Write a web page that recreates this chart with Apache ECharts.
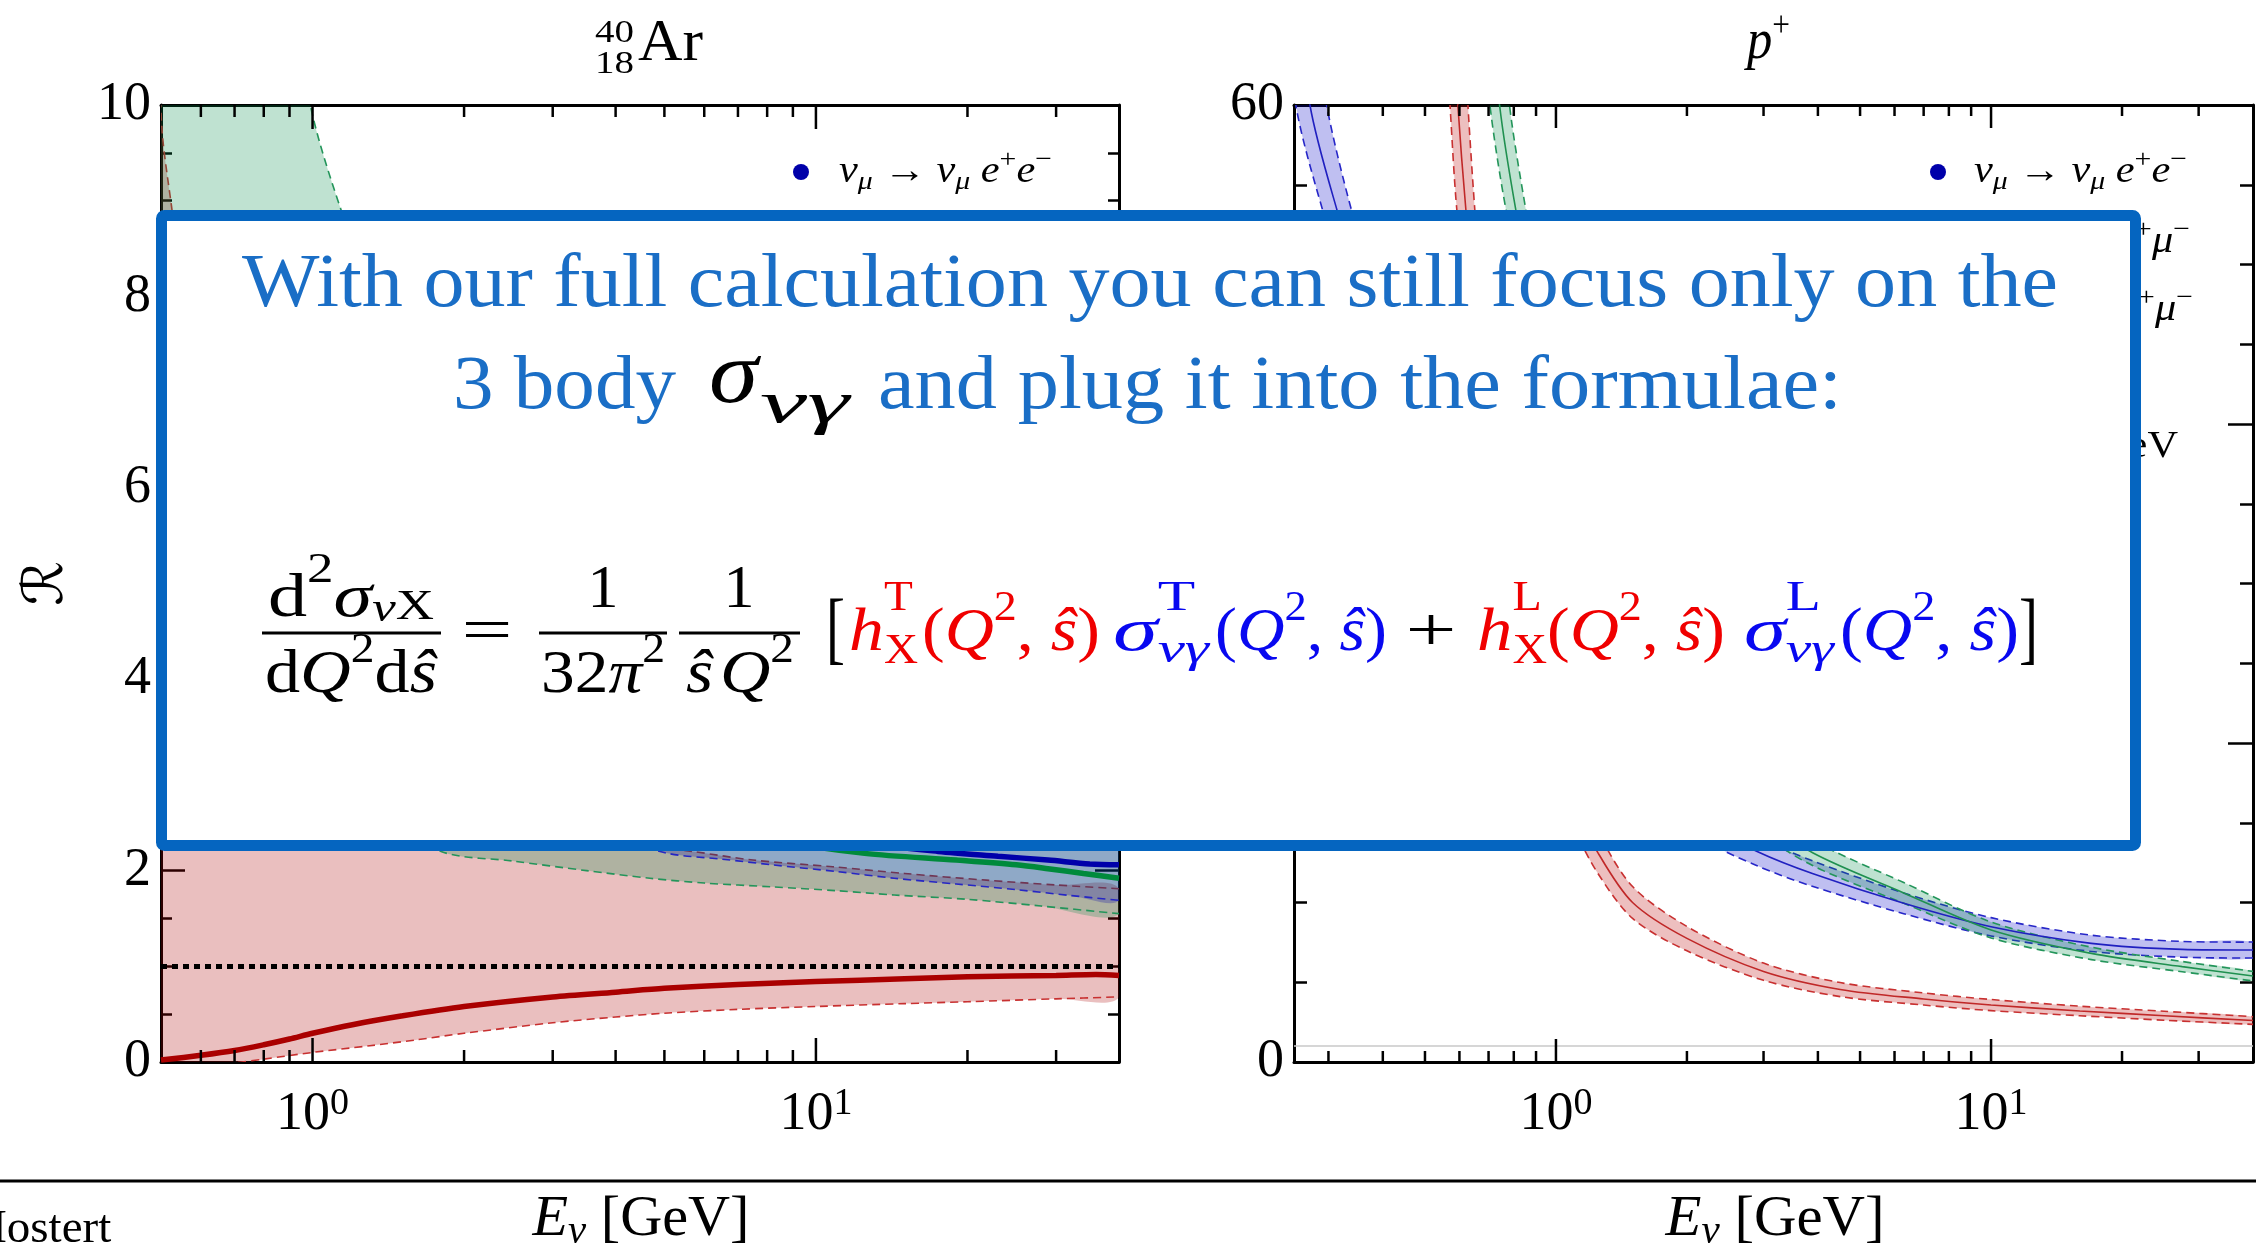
<!DOCTYPE html>
<html><head><meta charset="utf-8">
<script src="https://cdn.jsdelivr.net/npm/echarts@6/dist/echarts.min.js"></script>
<style>html,body{margin:0;padding:0;background:#fff;}#c{width:2256px;height:1246px;}</style>
</head><body><div id="c"></div>
<script>
// ===================== DATA =====================
// Left panel: 40Ar, ratio R vs E_nu [GeV]   ([E, R] pairs)
const AR_RED_MID = [[0.5,0.02],[0.6,0.07],[0.7,0.12],[0.8,0.18],[0.9,0.24],[1,0.30],[1.2,0.39],[1.5,0.48],[2,0.58],[3,0.68],[4,0.73],[5,0.77],[7,0.81],[10,0.84],[15,0.87],[20,0.89],[30,0.905],[36,0.915],[40,0.905]];
const AR_RED_LO  = [[0.5,-0.12],[0.6,-0.06],[0.7,-0.01],[0.8,0.03],[1,0.1],[1.3,0.17],[1.6,0.23],[2,0.30],[3,0.41],[4,0.47],[5,0.51],[7,0.55],[10,0.58],[15,0.61],[20,0.63],[30,0.66],[40,0.68]];
const AR_RED_HI  = [[0.495,10.6],[0.503,9.7],[0.525,8.93],[0.6,6.6],[0.7,5.2],[0.85,4.3],[1,3.75],[1.5,3.0],[2,2.72],[3,2.45],[4,2.3],[5.69,2.2],[7.5,2.11],[10.8,2.04],[15,1.97],[21.8,1.90],[30,1.85],[40,1.81]];
const AR_GRN_MID = [[0.5,8.2],[0.7,6.6],[1,5.3],[1.5,4.1],[2,3.5],[3,2.9],[5,2.55],[8,2.33],[12.5,2.18],[19,2.11],[25,2.06],[28.9,2.02],[34,1.97],[40,1.92]];
const AR_GRN_LO  = [[0.5,5.2],[0.7,4.1],[1,3.25],[1.4,2.6],[1.8,2.2],[2.5,2.10],[3.5,2.0],[4.68,1.92],[6,1.87],[8.18,1.83],[11,1.79],[14.3,1.745],[20,1.70],[28,1.63],[40,1.55]];
const AR_GRN_HI  = [[0.5,30],[0.7,17],[0.85,12.2],[0.99,10],[1.14,8.9],[1.5,7.2],[2,6.0],[3,4.8],[5,3.9],[10,3.2],[20,2.8],[40,2.5]];
const AR_BLU_MID = [[0.5,7.4],[0.7,6.5],[1,5.7],[1.5,4.7],[2,4.05],[3,3.4],[5,2.8],[8,2.48],[12,2.3],[17.5,2.2],[23,2.15],[28.9,2.11],[35,2.07],[40,2.06]];
const AR_BLU_LO  = [[0.5,6.2],[0.7,5.3],[1,4.5],[1.5,3.6],[2,3.15],[3,2.65],[4,2.35],[5.08,2.18],[6.5,2.12],[8.18,2.06],[11,1.99],[14.3,1.92],[19,1.86],[25.1,1.80],[32,1.74],[40,1.69]];
const AR_BLU_HI  = [[0.5,8.6],[0.7,7.8],[1,7.0],[1.5,5.8],[2,5.0],[3,4.2],[5,3.5],[10,3.0],[20,2.7],[40,2.45]];
// Right panel: proton
const P_RED_MID = [[0.56,72],[0.595,60],[0.621,53.4],[0.7,38],[0.8,29],[0.9,23],[1.0,19],[1.1,16.2],[1.25,13.1],[1.5,10.0],[2.0,7.75],[3.0,5.68],[4.5,4.55],[7,3.95],[10,3.57],[16,3.2],[25,2.9],[40,2.6]];
const P_RED_HI  = [[0.6,70],[0.6276,60],[0.651,53.4],[0.7,42.5],[0.8,32],[0.9,25.3],[1.0,20.9],[1.1,17.8],[1.25,14.4],[1.5,11.0],[2,8.5],[3,6.2],[4.5,4.98],[7,4.33],[10,3.92],[16,3.5],[25,3.18],[40,2.84]];
const P_RED_LO  = [[0.54,70],[0.5707,60],[0.592,53.4],[0.7,33.8],[0.8,26.1],[0.9,20.7],[1.0,17.1],[1.1,14.6],[1.25,11.8],[1.5,9.0],[2,6.97],[3,5.12],[4.5,4.1],[7,3.57],[10,3.22],[16,2.9],[25,2.62],[40,2.36]];
const P_BLU_MID = [[0.24,72],[0.272,60],[0.314,53.4],[0.4,44],[0.5,37],[0.7,29],[1.0,23],[1.5,18],[2.0,15.5],[2.9,13.2],[3.9,11.8],[6.3,9.95],[10,8.48],[17,7.44],[27.5,7.06],[40,7.02]];
const P_BLU_HI  = [[0.26,70],[0.297,60],[0.339,53.4],[0.4,47],[0.5,39.6],[0.7,31],[1,24.6],[1.5,19.3],[2,16.6],[2.9,14.1],[3.9,12.6],[6.3,10.6],[10,9.05],[17,7.95],[27.5,7.56],[40,7.52]];
const P_BLU_LO  = [[0.23,70],[0.2524,60],[0.291,53.4],[0.4,41],[0.5,34.4],[0.7,27],[1,21.4],[1.5,16.7],[2,14.4],[2.9,12.3],[3.9,11.0],[6.3,9.3],[10,7.9],[17,6.93],[27.5,6.57],[40,6.52]];
const P_GRN_MID = [[0.7,68],[0.742,60],[0.809,53.4],[1.0,40],[1.5,27],[2.0,20.5],[3.0,15.3],[3.9,13.1],[6.3,10.6],[10,8.28],[17,6.81],[27.5,5.98],[40,5.39]];
const P_GRN_HI  = [[0.74,68],[0.782,60],[0.853,53.4],[1.0,42.6],[1.5,28.7],[2,21.8],[3,16.3],[3.9,13.9],[6.3,11.25],[10,8.78],[17,7.2],[27.5,6.3],[40,5.68]];
const P_GRN_LO  = [[0.665,68],[0.705,60],[0.768,53.4],[1.0,37.4],[1.5,25.3],[2,19.2],[3,14.3],[3.9,12.3],[6.3,9.95],[10,7.78],[17,6.42],[27.5,5.66],[40,5.08]];
// reference levels
const AR_REF = 1, P_REF = 1;
// tick values
const L_MAJ = [1, 10];
const L_MIN = [0.6,0.7,0.8,0.9,2,3,4,5,6,7,8,9,20,30];
const R_MAJ = [1, 10];
const R_MIN = [0.3,0.4,0.5,0.6,0.7,0.8,0.9,2,3,4,5,6,7,8,9,20,30];
const AR_X = [0.5, 40], P_X = [0.25, 40], AR_Y = [0, 10, 2], P_Y = [0, 60, 20];

// ===================== helpers =====================
const SERIF = '"Liberation Serif"';
const TXTC = '#1a6ec6', BOXC = '#0565c0', RED = '#f00000', BLUE = '#0808f0';
const mctx = document.createElement('canvas').getContext('2d');
function fstr(s, it){ return (it ? 'italic ' : '') + s + 'px ' + SERIF; }
function tw(t, s, it){ mctx.font = fstr(s, it); mctx.textBaseline = 'alphabetic'; return mctx.measureText(t).width; }
function midOff(s, it){ mctx.font = fstr(s, it); mctx.textBaseline = 'middle'; const d = mctx.measureText('H').actualBoundingBoxDescent; mctx.textBaseline = 'alphabetic'; return d; }
function txt(t, x, base, s, o){ o = o || {};
  return {type:'text', x:x, y: base - midOff(s, o.it), z: o.z || 10, scaleX: o.sx || 1, silent:true,
    style:{text:t, font:fstr(s, o.it), fill:o.c || '#000', align:'left', verticalAlign:'middle'}};
}
function tokW(k){
  if (k.sup !== undefined || k.sub !== undefined)
    return Math.max(k.sup ? tw(k.sup, k.s, k.supIt) : 0, k.sub ? tw(k.sub, k.s, k.subIt) : 0);
  return tw(k.t, k.s, k.it);
}
function rowW(tokens){ return tokens.reduce((a, k) => a + tokW(k) + (k.gap || 0), 0); }
function row(tokens, x0, base, opt){
  opt = opt || {}; const W = rowW(tokens); const sc = opt.width ? opt.width / W : (opt.sc || 1);
  let x = x0; if (opt.align === 'center') x = x0 - W * sc / 2; else if (opt.align === 'right') x = x0 - W * sc;
  const z = opt.z || 10, els = [];
  tokens.forEach(k => {
    if (k.sup !== undefined || k.sub !== undefined) {
      if (k.sup) els.push(txt(k.sup, x, base + k.dsup, k.s, {it:k.supIt, c:k.c, sx:sc, z}));
      if (k.sub) els.push(txt(k.sub, x, base + k.dsub, k.s, {it:k.subIt, c:k.c, sx:sc, z}));
    } else els.push(txt(k.t, x, base + (k.dy || 0), k.s, {it:k.it, c:k.c, sx:sc, z}));
    x += (tokW(k) + (k.gap || 0)) * sc;
  });
  return els;
}
const SM = 0.3;
function band(xi, yi, hi, lo, fill, stroke, lw){
  return {type:'custom', xAxisIndex:xi, yAxisIndex:yi, silent:true, clip:true, z:2,
    data:[hi[Math.floor(hi.length/2)]], encode:{x:0, y:1},
    renderItem(params, api){
      const H = hi.map(p => api.coord(p)), L = lo.map(p => api.coord(p));
      const dash = {stroke:stroke, lineWidth:lw, lineDash:[8,5], fill:'none'};
      return {type:'group', children:[
        {type:'polygon', shape:{points:H.concat(L.slice().reverse()), smooth:SM}, style:{fill:fill}},
        {type:'polyline', shape:{points:H, smooth:SM}, style:dash},
        {type:'polyline', shape:{points:L, smooth:SM}, style:dash}]};
    }};
}
function mid(xi, yi, data, color, w, extra){
  return Object.assign({type:'line', xAxisIndex:xi, yAxisIndex:yi, data:data, symbol:'none', showSymbol:false,
    silent:true, smooth:SM, z:3, clip:true, lineStyle:{color:color, width:w}}, extra || {});
}
function ticks(xi, yi, majors, minors, lmaj, lmin){
  const data = majors.map(v => [v, 1]).concat(minors.map(v => [v, 0]));
  return {type:'custom', xAxisIndex:xi, yAxisIndex:yi, silent:true, clip:false, z:6, data:data, encode:{x:0, y:1},
    renderItem(params, api){
      const cs = params.coordSys; const x = api.coord([api.value(0), 0])[0];
      const len = api.value(1) ? lmaj : lmin; const st = {stroke:'#000', lineWidth:2.5};
      return {type:'group', children:[
        {type:'line', shape:{x1:x, y1:cs.y + cs.height, x2:x, y2:cs.y + cs.height - len}, style:st},
        {type:'line', shape:{x1:x, y1:cs.y, x2:x, y2:cs.y + len}, style:st}]};
    }};
}
function powFmt(v){ const l = Math.log10(v), r = Math.round(l); if (Math.abs(l - r) > 1e-6) return ''; return '{b|10}{s|' + r + '}'; }
const AXL = {show:true, onZero:false, lineStyle:{color:'#000', width:3}};
function xa(g, ext, pos, lab){
  return {type:'log', logBase:10, gridIndex:g, min:ext[0], max:ext[1], position:pos, axisLine:AXL,
    axisTick:{show:false}, minorTick:{show:false}, splitLine:{show:false}, minorSplitLine:{show:false},
    axisLabel: lab ? {formatter:powFmt, margin:23, rich:{
      b:{fontFamily:SERIF, fontSize:54, color:'#000', lineHeight:60},
      s:{fontFamily:SERIF, fontSize:38, color:'#000', lineHeight:38, verticalAlign:'top'}}} : {show:false}};
}
function ya(g, ext, pos, lab, lmaj, lmin, extra){
  return Object.assign({type:'value', gridIndex:g, min:ext[0], max:ext[1], interval:ext[2], position:pos, axisLine:AXL,
    axisTick:{show:true, inside:true, length:lmaj, lineStyle:{color:'#000', width:2.5}},
    minorTick:{show:true, splitNumber:4, length:lmin, lineStyle:{color:'#000', width:2.5}},
    splitLine:{show:false}, minorSplitLine:{show:false},
    axisLabel: lab ? {fontFamily:SERIF, fontSize:54, color:'#000', margin:10} : {show:false}}, extra || {});
}

// ===================== series =====================
const series = [
  band(0,0,AR_RED_HI,AR_RED_LO,'rgba(170,0,0,0.25)','#c83030',1.6),
  band(0,0,AR_GRN_HI,AR_GRN_LO,'rgba(0,140,70,0.25)','#23955a',1.6),
  band(0,0,AR_BLU_HI,AR_BLU_LO,'rgba(0,0,170,0.25)','#2626c4',1.6),
  mid(0,0,AR_RED_MID,'#aa0000',5.5,{markLine:{silent:true, symbol:['none','none'], label:{show:false},
    lineStyle:{color:'#000', width:5, type:[6,5]}, data:[{yAxis:AR_REF}]}}),
  mid(0,0,AR_GRN_MID,'#008a3c',5.5),
  mid(0,0,AR_BLU_MID,'#0000aa',5.5),
  ticks(0,0,L_MAJ,L_MIN,24,12),
  band(2,2,P_RED_HI,P_RED_LO,'rgba(190,20,20,0.27)','#c83030',1.6),
  band(2,2,P_BLU_HI,P_BLU_LO,'rgba(0,0,200,0.25)','#2626c8',1.6),
  band(2,2,P_GRN_HI,P_GRN_LO,'rgba(0,140,70,0.25)','#23955a',1.6),
  mid(2,2,P_RED_MID,'#c02828',1.6,{markLine:{silent:true, symbol:['none','none'], label:{show:false},
    lineStyle:{color:'#c8c8c8', width:1.5, type:'solid'}, data:[{yAxis:P_REF}]}}),
  mid(2,2,P_BLU_MID,'#2020c0',1.6),
  mid(2,2,P_GRN_MID,'#1f9050',1.6),
  ticks(2,2,R_MAJ,R_MIN,23,11)
];

// ===================== texts / overlay =====================
const G = [];
const push = a => a.forEach(e => G.push(e));
// titles
push(row([{sup:'40', sub:'18', s:31, dsup:-18, dsub:13}], 595, 60, {width:39}));
push(row([{t:'Ar', s:60}], 638, 60, {width:65}));
push(row([{t:'p', s:58, it:1}, {t:'+', s:36, dy:-22}], 1747, 58, {width:43}));
// axis names
const EN = [{t:'E', s:57, it:1}, {t:'ν', s:40, it:1, dy:8}, {t:' [GeV]', s:57}];
push(row(EN, 641, 1235, {align:'center', width:217}));
push(row(EN, 1775, 1235, {align:'center', width:219}));
push([txt('Mostert', -35, 1242, 47)]);
G.push({type:'line', shape:{x1:0, y1:1181, x2:2256, y2:1181}, style:{stroke:'#000', lineWidth:3}, z:10});
// legends
function leg(a, b, c, d){ const S = 37, s = 26;
  return [{t:'ν',s:S,it:1},{t:a,s:s,it:1,dy:7},{t:' → ',s:S},{t:'ν',s:S,it:1},{t:b,s:s,it:1,dy:7},{t:' ',s:S},
          {t:c,s:S,it:1},{t:'+',s:s,dy:-15},{t:d,s:S,it:1},{t:'−',s:s,dy:-15}]; }
const LEG1 = leg('μ','μ','e','e'), LEG2 = leg('μ','μ','μ','μ'), LEG3 = leg('μ','e','e','μ');
const LEG5 = [{t:'Q',s:37,it:1},{t:'max',s:26,dy:7},{t:' = 1 GeV',s:37}];
const lsc = 213 / rowW(LEG1);
[[801, 839, 1055], [1938, 1974, 2190]].forEach(([dx, tx, re]) => {
  G.push({type:'circle', shape:{cx:dx, cy:172, r:8}, style:{fill:'#0000aa'}, z:10});
  G.push({type:'circle', shape:{cx:dx, cy:241, r:8}, style:{fill:'#008a3c'}, z:10});
  G.push({type:'circle', shape:{cx:dx, cy:310, r:8}, style:{fill:'#aa0000'}, z:10});
  push(row(LEG1, tx, 182, {sc:lsc}));
  push(row(LEG2, re, 252, {sc:lsc, align:'right'}));
  push(row(LEG3, re + 3, 320, {sc:lsc, align:'right'}));
  push(row(LEG5, re - 12, 457, {sc:lsc, align:'right'}));
});
// overlay box
G.push({type:'rect', shape:{x:161.5, y:215.5, width:1974, height:630, r:3}, style:{fill:'#fff', stroke:BOXC, lineWidth:11}, z:100});
push(row([{t:'With our full calculation you can still focus only on the', s:76, c:TXTC}], 242, 306, {width:1816, z:120}));
push(row([{t:'3 body', s:76, c:TXTC}], 453, 408, {width:223, z:120}));
push(row([{t:'σ', s:88, it:1}], 709, 403, {width:49, z:120}));
push(row([{t:'νγ', s:60, it:1}], 760, 422, {width:89, z:120}));
push(row([{t:'and plug it into the formulae:', s:76, c:TXTC}], 878, 408, {width:964, z:120}));
// formula
const M = 62, S = 42;
push(row([{t:'d',s:M},{t:'2',s:S,dy:-34},{t:'σ',s:M,it:1},{t:'ν',s:S,it:1,dy:5},{t:'X',s:S,dy:3}], 351, 616, {align:'center', width:166, z:120}));
push(row([{t:'d',s:M},{t:'Q',s:M,it:1},{t:'2',s:S,dy:-30},{t:'d',s:M},{t:'ŝ',s:M,it:1}], 351, 692, {align:'center', width:172, z:120}));
push(row([{t:'=',s:M}], 487, 650, {align:'center', width:51, z:120}));
push(row([{t:'1',s:M}], 603, 607, {align:'center', z:120}));
push(row([{t:'32',s:M},{t:'π',s:M,it:1},{t:'2',s:S,dy:-30}], 603, 692, {align:'center', width:124, z:120}));
push(row([{t:'1',s:M}], 739, 607, {align:'center', z:120}));
push(row([{t:'ŝ',s:M,it:1,gap:6},{t:'Q',s:M,it:1},{t:'2',s:S,dy:-30}], 740, 692, {align:'center', width:108, z:120}));
[[262,441],[539,667],[679,800]].forEach(([a,b]) => G.push({type:'line', shape:{x1:a, y1:633, x2:b, y2:633}, style:{stroke:'#000', lineWidth:3}, z:120}));
function paren(c){ return [{t:'(',s:M,c},{t:'Q',s:M,it:1,c},{t:'2',s:S,c,dy:-30},{t:',',s:M,c},{t:' ',s:M,c},{t:'ŝ',s:M,it:1,c},{t:')',s:M,c}]; }
push(row([{t:'[',s:80}], 826, 654, {width:19, z:120}));
push(row([{t:'h',s:M,it:1,c:RED},{sup:'T',sub:'X',s:S,c:RED,dsup:-40,dsub:13}], 849, 650, {width:69, z:120}));
push(row(paren(RED), 922, 650, {width:178, z:120}));
push(row([{t:'σ',s:M,it:1,c:BLUE},{sup:'T',sub:'νγ',s:S,c:BLUE,subIt:1,dsup:-40,dsub:12}], 1113, 650, {width:96, z:120}));
push(row(paren(BLUE), 1215, 650, {width:172, z:120}));
push(row([{t:'+',s:M}], 1431, 650, {align:'center', width:51, z:120}));
push(row([{t:'h',s:M,it:1,c:RED},{sup:'L',sub:'X',s:S,c:RED,dsup:-40,dsub:13}], 1477, 650, {width:70, z:120}));
push(row(paren(RED), 1547, 650, {width:178, z:120}));
push(row([{t:'σ',s:M,it:1,c:BLUE},{sup:'L',sub:'νγ',s:S,c:BLUE,subIt:1,dsup:-40,dsub:12}], 1744, 650, {width:90, z:120}));
push(row(paren(BLUE), 1840, 650, {width:179, z:120}));
push(row([{t:']',s:80}], 2019, 654, {width:19, z:120}));

// ===================== chart =====================
const chart = echarts.init(document.getElementById('c'), null, {renderer:'canvas'});
chart.setOption({
  animation:false, backgroundColor:'#fff',
  grid:[{left:161, top:105, width:958, height:957}, {left:1294, top:105, width:960, height:957}],
  xAxis:[xa(0,AR_X,'bottom',true), xa(0,AR_X,'top',false), xa(1,P_X,'bottom',true), xa(1,P_X,'top',false)],
  yAxis:[
    ya(0,AR_Y,'left',true,24,11,{name:'ℛ', nameLocation:'middle', nameGap:86, nameRotate:90,
      nameTextStyle:{fontFamily:'DejaVu Sans', fontSize:56, color:'#000'}}),
    ya(0,AR_Y,'right',false,24,11),
    ya(1,P_Y,'left',true,25,13),
    ya(1,P_Y,'right',false,25,13)],
  series:series,
  graphic:{elements:G}
});
</script></body></html>
